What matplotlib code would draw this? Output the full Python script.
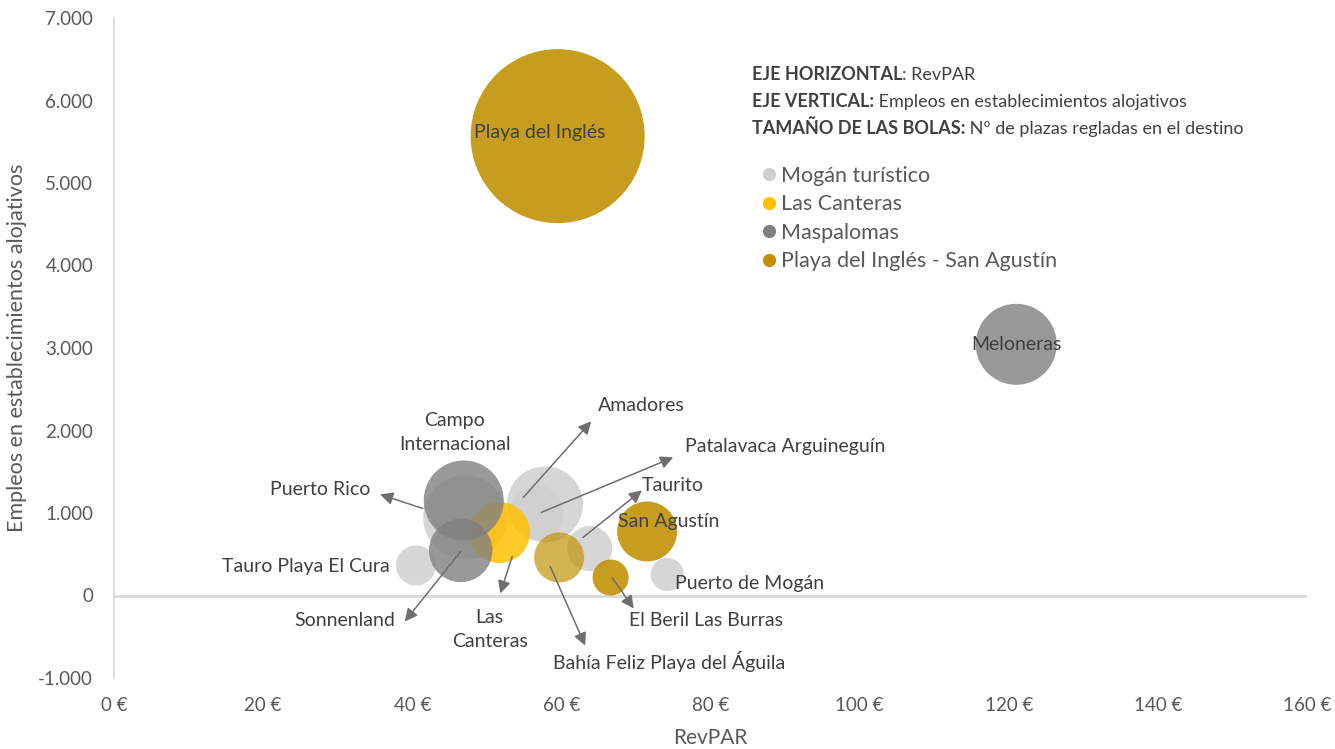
import matplotlib
matplotlib.use('Agg')
import matplotlib.pyplot as plt
from matplotlib.lines import Line2D
from matplotlib.colors import to_rgba
from matplotlib.ticker import FuncFormatter

plt.rcParams['font.family'] = ['Lato', 'DejaVu Sans']

# ---------------- data ----------------
series_names = ['Mogán turístico', 'Las Canteras', 'Maspalomas',
                'Playa del Inglés - San Agustín']

mogan_names = ['Puerto Rico', 'Amadores', 'Patalavaca Arguineguín', 'Taurito',
               'Tauro Playa El Cura', 'Puerto de Mogán']
mogan_revpar = [47.1, 57.8, 56.7, 63.8, 40.5, 74.2]
mogan_empleos = [946, 1104, 1007, 570, 364, 255]
mogan_plazas = [12120, 9920, 5010, 3480, 2750, 1870]

canteras_names = ['Las Canteras']
canteras_revpar = [51.6]
canteras_empleos = [764]
canteras_plazas = [6390]

maspalomas_names = ['Campo Internacional', 'Sonnenland', 'Meloneras']
maspalomas_revpar = [46.9, 46.5, 121.0]
maspalomas_empleos = [1152, 546, 3045]
maspalomas_plazas = [10990, 6900, 11270]

pdi_names = ['Playa del Inglés', 'San Agustín', 'Bahía Feliz Playa del Águila',
             'El Beril Las Burras']
pdi_revpar = [59.5, 71.5, 59.7, 66.6]
pdi_empleos = [5568, 776, 461, 218]
pdi_plazas = [52000, 6180, 4290, 2230]

x_ticks = [0, 20, 40, 60, 80, 100, 120, 140, 160]
y_ticks = [-1000, 0, 1000, 2000, 3000, 4000, 5000, 6000, 7000]

# ---------------- style ----------------
series_colors = ['#D0CECE', '#FFC000', '#808080', '#BF9000']
series_alpha = [0.85, 0.85, 0.8, 0.88]
point_alpha = {'Bahía Feliz Playa del Águila': 0.68}
TEXT = '#404040'
GREY = '#595959'
R_MAX_PX = 87  # radius (px) of the largest bubble
DPI = 100
LBL_FS = 14

# label positions (data coords) and optional arrow tail/head
labels = {
    'Playa del Inglés': dict(xy=(57.1, 5617)),
    'Meloneras': dict(xy=(121.0, 3045)),
    'San Agustín': dict(xy=(74.4, 898)),
    'Campo Internacional': dict(xy=(45.7, 1977), text='Campo\nInternacional'),
    'Tauro Playa El Cura': dict(xy=(25.8, 350)),
    'Puerto de Mogán': dict(xy=(85.3, 146)),
    'Puerto Rico': dict(xy=(27.6, 1286), tail=(41.4, 1055), head=(35.7, 1225)),
    'Amadores': dict(xy=(70.7, 2305), tail=(54.9, 1189), head=(64.0, 2111)),
    'Patalavaca Arguineguín': dict(xy=(90.0, 1808), tail=(57.3, 1007), head=(75.0, 1674)),
    'Taurito': dict(xy=(75.0, 1334), tail=(62.9, 704), head=(70.8, 1274)),
    'Sonnenland': dict(xy=(31.0, -303), tail=(46.5, 534), head=(39.0, -315)),
    'Las Canteras': dict(xy=(50.4, -412), text='Las\nCanteras', tail=(53.4, 473), head=(51.8, 24)),
    'Bahía Feliz Playa del Águila': dict(xy=(74.4, -801), tail=(58.5, 352), head=(63.2, -607)),
    'El Beril Las Burras': dict(xy=(79.4, -303), tail=(66.8, 218), head=(69.7, -158)),
}

fig = plt.figure(figsize=(13.35, 7.49), dpi=DPI)
ax = fig.add_axes([114 / 1335, 1 - 678 / 749, (1307 - 114) / 1335, (678 - 18) / 749])

all_plazas = mogan_plazas + canteras_plazas + maspalomas_plazas + pdi_plazas
pmax = max(all_plazas)
s_scale = (2 * R_MAX_PX * 72 / DPI) ** 2 / pmax

groups = [
    (mogan_names, mogan_revpar, mogan_empleos, mogan_plazas),
    (canteras_names, canteras_revpar, canteras_empleos, canteras_plazas),
    (maspalomas_names, maspalomas_revpar, maspalomas_empleos, maspalomas_plazas),
    (pdi_names, pdi_revpar, pdi_empleos, pdi_plazas),
]

for i, (nm, xs, ys, ps) in enumerate(groups):
    cols = [to_rgba(series_colors[i], point_alpha.get(n, series_alpha[i])) for n in nm]
    ax.scatter(xs, ys, s=[p * s_scale for p in ps], c=cols, linewidths=0, zorder=2 + i)

ax.axhline(0, color='#D9D9D9', lw=2, zorder=1)

for name, d in labels.items():
    ax.text(d['xy'][0], d['xy'][1], d.get('text', name), ha='center', va='center',
            fontsize=LBL_FS, color=TEXT, linespacing=1.5, zorder=10)
    if 'tail' in d:
        ax.annotate('', xy=d['head'], xytext=d['tail'],
                    arrowprops=dict(arrowstyle='-|>', color='#6E6E6E', lw=1.1,
                                    mutation_scale=19, shrinkA=0, shrinkB=0),
                    zorder=11)

ax.set_xlim(0, 160)
ax.set_ylim(-1000, 7000)
ax.set_xticks(x_ticks)
ax.set_yticks(y_ticks)
ax.xaxis.set_major_formatter(FuncFormatter(lambda v, p: f"{v:.0f} €"))
ax.yaxis.set_major_formatter(FuncFormatter(lambda v, p: f"{v:,.0f}".replace(',', '.')))
ax.tick_params(axis='both', length=0, labelsize=13.5, colors=GREY)
ax.tick_params(axis='x', pad=14)
ax.tick_params(axis='y', pad=15)
for sp in ['top', 'right', 'bottom']:
    ax.spines[sp].set_visible(False)
ax.spines['left'].set_color('#D9D9D9')
ax.spines['left'].set_linewidth(1.3)

ax.set_xlabel('RevPAR', fontsize=15, color=GREY, labelpad=10)
ax.set_ylabel('Empleos en establecimientos alojativos', fontsize=15.5, color=GREY,
              labelpad=8)

# explanatory block
info = [('EJE HORIZONTAL', ': RevPAR'),
        ('EJE VERTICAL:', ' Empleos en establecimientos alojativos'),
        ('TAMAÑO DE LAS BOLAS:', ' Nº de plazas regladas en el destino')]
for k, (b, r) in enumerate(info):
    yfig = 1 - (75 + k * 26.5) / 749
    tb = fig.text(752 / 1335, yfig, b, fontsize=13, fontweight='bold', color=TEXT,
                  ha='left', va='center')
    ax.annotate(r, xy=(1, 0), xycoords=tb, ha='left', va='bottom', fontsize=13,
                color=TEXT, annotation_clip=False)

handles = [Line2D([], [], ls='', marker='o', markersize=9.5, markeredgewidth=0,
                  color=c) for c in series_colors]
fig.legend(handles, series_names, loc='upper left',
           bbox_to_anchor=(763 / 1335, 1 - 166 / 749), frameon=False, fontsize=15.5,
           labelcolor=GREY, handlelength=0.6, handletextpad=0.22, labelspacing=0.39,
           borderpad=0, borderaxespad=0)

fig.savefig('out.png', dpi=DPI)
